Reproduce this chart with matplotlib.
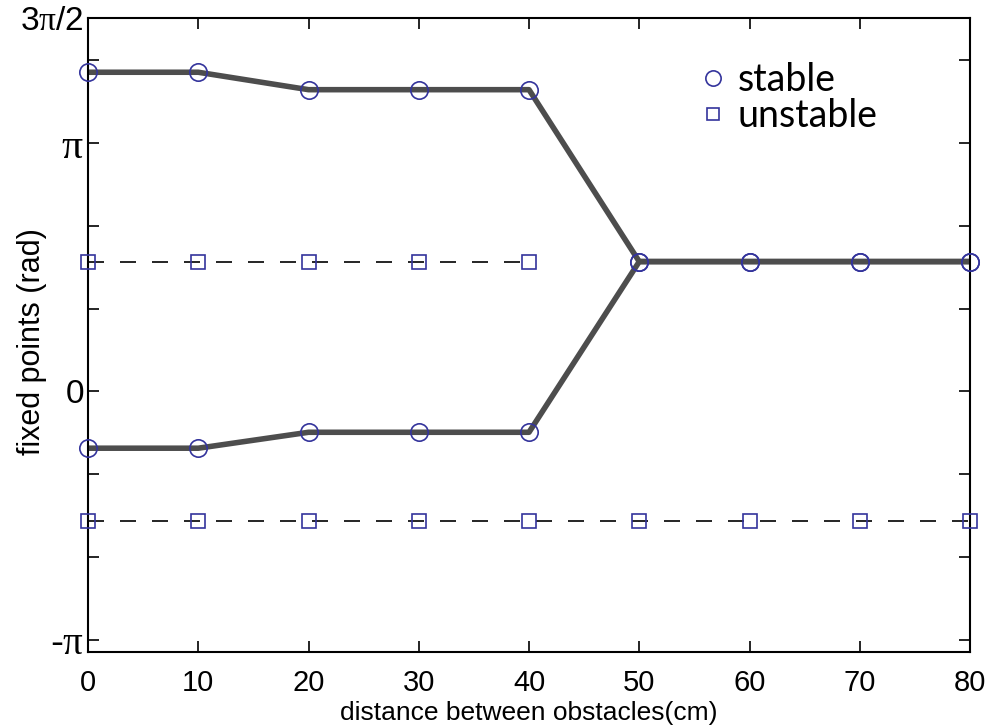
import matplotlib.pyplot as plt
import numpy as np

plt.rcParams['font.family'] = ['Liberation Sans', 'DejaVu Sans']
plt.rcParams['mathtext.fontset'] = 'custom'
plt.rcParams['mathtext.rm'] = 'Liberation Sans'
plt.rcParams['mathtext.it'] = 'Liberation Serif'

# distance between obstacles (cm)
dist = [0, 10, 20, 30, 40, 50, 60, 70, 80]
# stable fixed points (rad)
stable_up = [4.03, 4.03, 3.81, 3.81, 3.81, 1.64, 1.64, 1.64, 1.64]
stable_lo = [-0.716, -0.716, -0.515, -0.515, -0.515, 1.64, 1.64, 1.64, 1.64]
# unstable fixed points (rad)
unstable_x1 = [0, 10, 20, 30, 40]
unstable_1 = [1.64, 1.64, 1.64, 1.64, 1.64]
unstable_x2 = [0, 10, 20, 30, 40, 50, 60, 70, 80]
unstable_2 = [-1.64, -1.64, -1.64, -1.64, -1.64, -1.64, -1.64, -1.64, -1.64]

ytick_vals = [-np.pi, -2*np.pi/3, -np.pi/3, 0, np.pi/3, 2*np.pi/3, np.pi, 4*np.pi/3, 3*np.pi/2]
ytick_labels = [r'-$\pi$', '', '', r'$0$', '', '', r'$\pi$', '', r'$3\pi/2$']
ytick_sizes = [28, 10, 10, 24, 10, 10, 30, 10, 24]

blue = '#34349c'
gray = '#4d4d4d'

fig = plt.figure(figsize=(10, 7.28), dpi=100)
ax = fig.add_axes([0.088, 0.104, 0.882, 0.871])

ax.plot(unstable_x1, unstable_1, color='black', lw=1.2, dashes=(9.6, 9.6), zorder=1)
ax.plot(unstable_x2, unstable_2, color='black', lw=1.2, dashes=(9.6, 9.6), zorder=1)
ax.plot(dist, stable_up, color=gray, lw=4, zorder=2)
ax.plot(dist, stable_lo, color=gray, lw=4, zorder=2)

ax.plot(dist, stable_up, 'o', mfc='none', mec=blue, ms=12.5, mew=1.2, zorder=3, clip_on=False)
ax.plot(dist, stable_lo, 'o', mfc='none', mec=blue, ms=12.5, mew=1.2, zorder=3, clip_on=False)
ax.plot(unstable_x1, unstable_1, 's', mfc='none', mec=blue, ms=9.5, mew=1.2, zorder=3, clip_on=False)
ax.plot(unstable_x2, unstable_2, 's', mfc='none', mec=blue, ms=9.5, mew=1.2, zorder=3, clip_on=False)

h1, = ax.plot([], [], 'o', mfc='none', mec=blue, ms=11, mew=1.2)
h2, = ax.plot([], [], 's', mfc='none', mec=blue, ms=8.5, mew=1.2)
ax.legend([h1, h2], ['stable', 'unstable'], loc='upper left', bbox_to_anchor=(0.658, 0.984),
          frameon=False, handlelength=0.6, handletextpad=0.35, labelspacing=0.0,
          prop={'family': 'Lato', 'size': 27})

ax.set_xlim(0, 80)
ax.set_ylim(-1.048*np.pi, 1.5*np.pi)
ax.set_xticks(dist)
ax.set_yticks(ytick_vals)
ax.set_yticklabels(ytick_labels)
for lbl, sz in zip(ax.get_yticklabels(), ytick_sizes):
    lbl.set_fontsize(sz)
ax.tick_params(direction='in', length=8, width=1.2, top=True, right=True)
ax.tick_params(axis='x', labelsize=21, pad=12)
ax.tick_params(axis='y', pad=3)
for s in ax.spines.values():
    s.set_linewidth(1.5)

ax.set_xlabel('distance between obstacles(cm)', fontsize=19)
ax.xaxis.set_label_coords(0.5, -0.077)
ax.set_ylabel('fixed points (rad)', fontsize=22)
ax.yaxis.set_label_coords(-0.046, 0.49)

fig.savefig('out.png', dpi=100)
